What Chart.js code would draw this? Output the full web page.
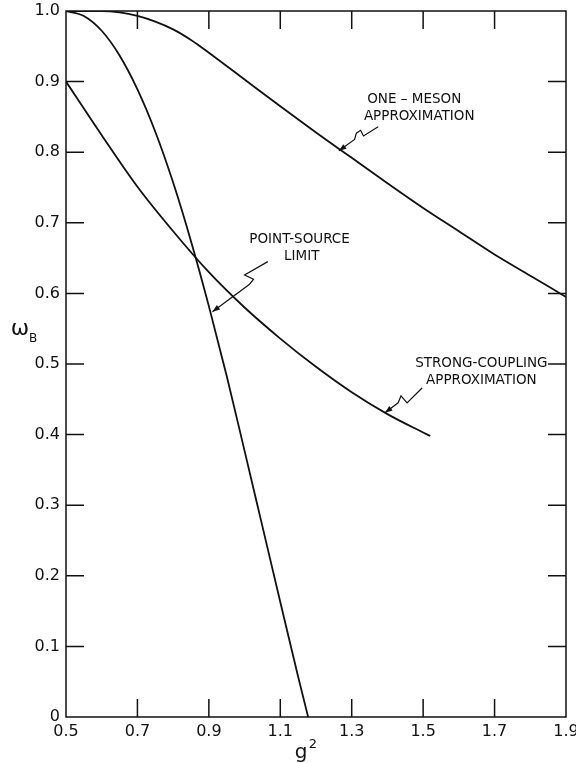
<!DOCTYPE html>
<html>
<head>
<meta charset="utf-8">
<script src="https://cdn.jsdelivr.net/npm/chart.js@4"></script>
<style>
  html, body { margin: 0; padding: 0; background: #fff; }
  #wrap { width: 576px; height: 763px; }
</style>
</head>
<body>
<div id="wrap"><canvas id="chart"></canvas></div>
<script>
// (g^2 on x, omega_B on y)
const pointX = [0.5, 0.55, 0.6, 0.65, 0.7, 0.75, 0.8, 0.85, 0.9, 0.95, 1.0, 1.05, 1.1, 1.15, 1.178];
const pointY = [1.0, 0.993, 0.972, 0.937, 0.889, 0.829, 0.757, 0.674, 0.582, 0.483, 0.377, 0.270, 0.163, 0.057, 0.0];

const mesonX = [0.5, 0.6, 0.65, 0.7, 0.75, 0.8, 0.85, 0.9, 1.0, 1.1, 1.2, 1.3, 1.4, 1.5, 1.6, 1.7, 1.8, 1.9];
const mesonY = [1.0, 1.0, 0.998, 0.993, 0.985, 0.974, 0.959, 0.941, 0.903, 0.865, 0.828, 0.792, 0.756, 0.721, 0.688, 0.655, 0.625, 0.595];

const strongX = [0.5, 0.6, 0.7, 0.8, 0.9, 1.0, 1.1, 1.2, 1.3, 1.4, 1.5, 1.52];
const strongY = [0.90, 0.824, 0.751, 0.688, 0.630, 0.580, 0.536, 0.496, 0.460, 0.429, 0.403, 0.398];

const xTicks = [0.5, 0.7, 0.9, 1.1, 1.3, 1.5, 1.7, 1.9];
const yTicks = [0, 0.1, 0.2, 0.3, 0.4, 0.5, 0.6, 0.7, 0.8, 0.9, 1.0];

// curve labels and their little squiggly pointers (in data units)
const labels = [
  { text: 'ONE – MESON', x: 1.475, y: 0.874 },
  { text: 'APPROXIMATION', x: 1.489, y: 0.850 },
  { text: 'POINT-SOURCE', x: 1.154, y: 0.676 },
  { text: 'LIMIT', x: 1.16, y: 0.652 },
  { text: 'STRONG-COUPLING', x: 1.663, y: 0.501 },
  { text: 'APPROXIMATION', x: 1.663, y: 0.476 }
];
const pointers = [
  [[1.374, 0.836], [1.333, 0.823], [1.325, 0.831], [1.313, 0.827], [1.308, 0.818], [1.264, 0.802]],
  [[1.065, 0.645], [1.0, 0.626], [1.025, 0.620], [1.014, 0.613], [0.91, 0.574]],
  [[1.497, 0.466], [1.455, 0.445], [1.438, 0.455], [1.43, 0.445], [1.393, 0.431]]
];

const toXY = (xs, ys) => xs.map((x, i) => ({ x: x, y: ys[i] }));

const line = (data) => ({
  data: data,
  borderColor: '#111',
  borderWidth: 1.8,
  pointRadius: 0,
  fill: false,
  cubicInterpolationMode: 'monotone'
});

// inward ticks on all four sides, frame, labels, axis titles
const decor = {
  id: 'decor',
  afterDraw(chart) {
    const { ctx, chartArea: a, scales: { x, y } } = chart;
    ctx.save();
    ctx.strokeStyle = '#111';
    ctx.lineWidth = 1.5;
    ctx.strokeRect(a.left, a.top, a.right - a.left, a.bottom - a.top);

    const len = 18;
    ctx.beginPath();
    xTicks.slice(1, -1).forEach(v => {
      const px = x.getPixelForValue(v);
      ctx.moveTo(px, a.bottom); ctx.lineTo(px, a.bottom - len);
      ctx.moveTo(px, a.top); ctx.lineTo(px, a.top + len);
    });
    yTicks.slice(1, -1).forEach(v => {
      const py = y.getPixelForValue(v);
      ctx.moveTo(a.left, py); ctx.lineTo(a.left + len, py);
      ctx.moveTo(a.right, py); ctx.lineTo(a.right - len, py);
    });
    ctx.stroke();

    // pointers
    ctx.lineWidth = 1.2;
    pointers.forEach(p => {
      const pts = p.map(q => [x.getPixelForValue(q[0]), y.getPixelForValue(q[1])]);
      ctx.beginPath();
      ctx.moveTo(pts[0][0], pts[0][1]);
      for (let i = 1; i < pts.length; i++) ctx.lineTo(pts[i][0], pts[i][1]);
      ctx.stroke();
      // arrow head
      const [tx, ty] = pts[pts.length - 1];
      const [sx, sy] = pts[pts.length - 2];
      const ang = Math.atan2(ty - sy, tx - sx);
      ctx.beginPath();
      ctx.moveTo(tx, ty);
      ctx.lineTo(tx - 8 * Math.cos(ang - 0.35), ty - 8 * Math.sin(ang - 0.35));
      ctx.lineTo(tx - 8 * Math.cos(ang + 0.35), ty - 8 * Math.sin(ang + 0.35));
      ctx.closePath();
      ctx.fillStyle = '#111';
      ctx.fill();
    });

    ctx.fillStyle = '#111';
    ctx.font = '13.5px "DejaVu Sans"';
    ctx.textAlign = 'center';
    ctx.textBaseline = 'middle';
    labels.forEach(l => {
      ctx.fillText(l.text, x.getPixelForValue(l.x), y.getPixelForValue(l.y));
    });

    // axis titles
    ctx.font = '22px "DejaVu Sans"';
    ctx.fillText('ω', 20, 329);
    ctx.font = '12px "DejaVu Sans"';
    ctx.fillText('B', 33, 339);
    ctx.font = '20px "DejaVu Sans"';
    ctx.fillText('g', 301, 753);
    ctx.font = '13px "DejaVu Sans"';
    ctx.fillText('2', 313, 745);
    ctx.restore();
  }
};

new Chart(document.getElementById('chart'), {
  type: 'line',
  data: {
    datasets: [
      line(toXY(pointX, pointY)),
      line(toXY(mesonX, mesonY)),
      line(toXY(strongX, strongY))
    ]
  },
  options: {
    responsive: true,
    maintainAspectRatio: false,
    animation: false,
    layout: { padding: { top: 11, right: 10, left: 0, bottom: 0 } },
    plugins: { legend: { display: false }, tooltip: { enabled: false } },
    scales: {
      x: {
        type: 'linear',
        min: 0.5, max: 1.9,
        afterBuildTicks: s => { s.ticks = xTicks.map(v => ({ value: v })); },
        afterFit: s => { s.height = 46; s.paddingLeft = 0; s.paddingRight = 0; },
        grid: { drawOnChartArea: false, drawTicks: false },
        border: { display: false },
        ticks: {
          padding: 5,
          color: '#111',
          font: { family: 'DejaVu Sans', size: 16 },
          callback: v => v.toFixed(1)
        }
      },
      y: {
        type: 'linear',
        min: 0, max: 1,
        afterBuildTicks: s => { s.ticks = yTicks.map(v => ({ value: v })); },
        afterFit: s => { s.width = 66; s.paddingTop = 0; s.paddingBottom = 0; },
        grid: { drawOnChartArea: false, drawTicks: false },
        border: { display: false },
        ticks: {
          padding: 6,
          color: '#111',
          font: { family: 'DejaVu Sans', size: 16 },
          callback: v => v === 0 ? '0' : v.toFixed(1)
        }
      }
    }
  },
  plugins: [decor]
});
</script>
</body>
</html>
